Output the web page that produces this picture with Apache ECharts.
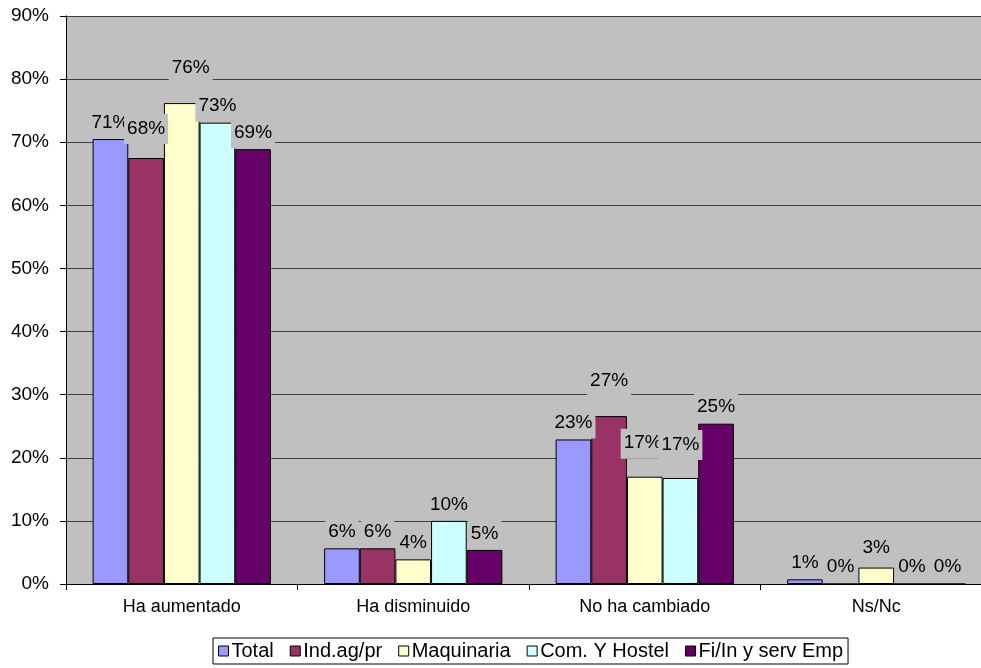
<!DOCTYPE html>
<html>
<head>
<meta charset="utf-8">
<script src="https://cdn.jsdelivr.net/npm/echarts@6/dist/echarts.min.js"></script>
<style>
  html, body { margin: 0; padding: 0; background: #ffffff; }
  #chart { width: 981px; height: 668px; }
</style>
</head>
<body>
<div id="chart"></div>
<script>
// Categories on the x axis
const categories = ['Ha aumentado', 'Ha disminuido', 'No ha cambiado', 'Ns/Nc'];

// Series values (percent)
const seriesNames = ['Total', 'Ind.ag/pr', 'Maquinaria', 'Com. Y Hostel', 'Fi/In y serv Emp'];
const total      = [70.5, 5.65, 22.9, 0.74];
const indAgPr    = [67.5, 5.65, 26.6, 0];
const maquinaria = [76.2, 3.9, 17.0, 2.6];
const comHostel  = [73.1, 10.0, 16.8, 0];
const fiInServ   = [68.9, 5.4, 25.4, 0];

// Value axis ticks
const yTicks = [0, 10, 20, 30, 40, 50, 60, 70, 80, 90];

const seriesValues = [total, indAgPr, maquinaria, comHostel, fiInServ];
const colors = ['#9999FF', '#993366', '#FFFFCC', '#CCFFFF', '#660066'];

// Label nudges for labels lifted away from their bars: [seriesIndex]-[categoryIndex] -> [dx, dy]
const labelNudge = {
  '1-0': [0, -13],
  '2-0': [9, -19],
  '1-2': [0, -19],
  '2-2': [-2, -17],
  '3-2': [0, -17],
  '2-3': [0, -3]
};

const FONT = 'Liberation Sans, Arial, sans-serif';

const series = seriesNames.map((name, si) => ({
  name: name,
  type: 'bar',
  barGap: '0%',
  barCategoryGap: '23%',
  itemStyle: { color: colors[si], borderColor: '#000', borderWidth: 1 },
  label: {
    show: true,
    position: 'top',
    distance: 1,
    color: '#000',
    fontFamily: FONT,
    fontSize: 19,
    backgroundColor: '#c0c0c0',
    padding: [5, 3, 6, 3],
    formatter: p => Math.round(p.value) + '%'
  },
  data: seriesValues[si].map((v, ci) => {
    const nudge = labelNudge[si + '-' + ci];
    return nudge ? { value: v, label: { offset: nudge } } : v;
  })
}));

const chart = echarts.init(document.getElementById('chart'), null, { renderer: 'canvas' });
chart.setOption({
  animation: false,
  backgroundColor: '#ffffff',
  color: colors,
  // The plot area runs past the right edge of the canvas
  grid: {
    left: 66, width: 926, top: 16, bottom: 84,
    outerBoundsMode: 'none',
    containLabel: false,
    show: true, backgroundColor: '#c0c0c0', borderWidth: 0
  },
  xAxis: {
    type: 'category',
    data: categories,
    axisLine: { lineStyle: { color: '#000', width: 1 } },
    axisTick: { show: true, length: 6, lineStyle: { color: '#000' } },
    axisLabel: { color: '#000', fontFamily: FONT, fontSize: 18, margin: 14 }
  },
  yAxis: {
    type: 'value',
    min: yTicks[0],
    max: yTicks[yTicks.length - 1],
    interval: 10,
    axisLine: { show: true, lineStyle: { color: '#000', width: 1 } },
    axisTick: { show: true, length: 6, lineStyle: { color: '#000' } },
    axisLabel: { color: '#000', fontFamily: FONT, fontSize: 19, margin: 17, formatter: '{value}%' },
    splitLine: { show: true, lineStyle: { color: '#404040', width: 1 } }
  },
  legend: {
    data: seriesNames,
    left: 213,
    top: 638,
    icon: 'rect',
    itemWidth: 10,
    itemHeight: 10,
    itemGap: 16,
    padding: [3, 5, 3, 5],
    borderColor: '#000',
    borderWidth: 1,
    itemStyle: { borderColor: '#000', borderWidth: 1 },
    textStyle: { color: '#000', fontFamily: FONT, fontSize: 20, padding: [0, 0, 0, -2] }
  },
  series: series
});
</script>
</body>
</html>
